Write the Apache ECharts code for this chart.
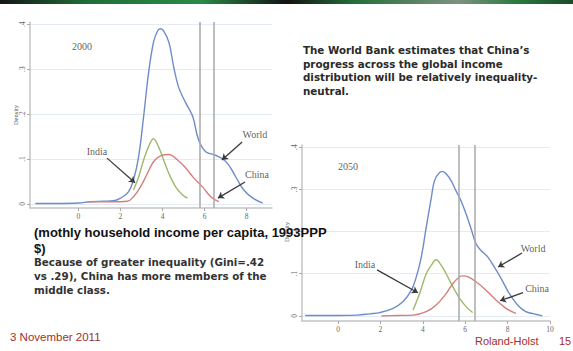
<!DOCTYPE html>
<html><head><meta charset="utf-8">
<script src="https://cdn.jsdelivr.net/npm/echarts@6/dist/echarts.min.js"></script>
<style>html,body{margin:0;padding:0;background:#fff}#c{width:573px;height:351px}</style>
</head><body><div id="c"></div>
<script>
// ---- data ----
const xTicksLeft = [0, 2, 4, 6, 8];
const xTicksRight = [0, 2, 4, 6, 8, 10];
const yTicks = [0, 0.1, 0.2, 0.3, 0.4];
const yTickLabels = ['0', '.1', '.2', '.3', '.4'];

const world2000X = [-2.05, -1, 0, 0.57, 1.2, 1.67, 2.0, 2.38, 2.62, 2.86, 3.1, 3.33, 3.57, 3.76, 3.9, 4.05, 4.3, 4.52, 4.76, 5.1, 5.43, 5.71, 6.05, 6.43, 6.86, 7.14, 7.48, 7.86, 8.29, 8.76];
const world2000Y = [0.001, 0.001, 0.002, 0.005, 0.006, 0.007, 0.013, 0.027, 0.054, 0.105, 0.195, 0.29, 0.36, 0.385, 0.39, 0.385, 0.36, 0.307, 0.26, 0.225, 0.195, 0.143, 0.116, 0.11, 0.10, 0.087, 0.06, 0.031, 0.013, 0.002];
const india2000X = [2.62, 2.86, 3.1, 3.33, 3.57, 3.81, 4.05, 4.29, 4.62, 4.95, 5.19];
const india2000Y = [0.031, 0.06, 0.098, 0.127, 0.145, 0.127, 0.098, 0.069, 0.038, 0.02, 0.013];
const china2000X = [0.48, 1.2, 2.0, 2.33, 2.62, 2.95, 3.29, 3.57, 3.9, 4.29, 4.71, 5.1, 5.48, 5.9, 6.29, 6.67];
const china2000Y = [0.005, 0.005, 0.005, 0.006, 0.016, 0.038, 0.069, 0.094, 0.107, 0.11, 0.098, 0.08, 0.058, 0.038, 0.016, 0.005];

const world2050X = [-1.55, -0.38, 0.88, 1.5, 1.97, 2.6, 3.07, 3.46, 3.69, 3.93, 4.16, 4.4, 4.55, 4.79, 4.95, 5.1, 5.34, 5.57, 5.8, 6.04, 6.28, 6.51, 6.75, 7.06, 7.37, 7.69, 8.08, 8.47, 8.86, 9.25, 9.64];
const world2050Y = [0.001, 0.001, 0.002, 0.005, 0.008, 0.018, 0.034, 0.061, 0.092, 0.14, 0.21, 0.28, 0.32, 0.34, 0.342, 0.337, 0.32, 0.296, 0.273, 0.242, 0.206, 0.171, 0.155, 0.14, 0.116, 0.089, 0.053, 0.026, 0.01, 0.005, 0.0];
const india2050X = [3.54, 3.85, 4.16, 4.4, 4.63, 4.87, 5.1, 5.42, 5.73, 6.04, 6.35];
const india2050Y = [0.014, 0.053, 0.1, 0.12, 0.133, 0.12, 0.1, 0.069, 0.042, 0.022, 0.008];
const china2050X = [2.05, 2.8, 3.54, 4.16, 4.63, 5.1, 5.49, 5.88, 6.12, 6.51, 6.98, 7.45, 7.92, 8.39];
const china2050Y = [0.0, 0.001, 0.002, 0.01, 0.026, 0.053, 0.081, 0.095, 0.093, 0.081, 0.061, 0.038, 0.018, 0.006];

const refLines2000 = [5.76, 6.43];
const refLines2050 = [5.68, 6.43];

// annotation text and arrows (data coordinates)
const notes2000 = [['2000', 0.17, 0.35], ['India', 0.88, 0.116], ['World', 8.39, 0.154], ['China', 8.49, 0.065]];
const arrows2000 = [[1.36, 0.102, 2.69, 0.047], [7.78, 0.138, 6.82, 0.098], [7.92, 0.049, 6.63, 0.013]];
const notes2050 = [['2050', 0.47, 0.353], ['India', 1.27, 0.121], ['World', 9.2, 0.159], ['China', 9.39, 0.064]];
const arrows2050 = [[1.84, 0.109, 3.77, 0.055], [8.68, 0.149, 7.55, 0.116], [8.73, 0.055, 7.64, 0.036]];

// ---- styling ----
const BLUE = '#6f8cc8', GREEN = '#9fb86e', RED = '#d47f7c';
const zip = (xs, ys) => xs.map((x, i) => [x, ys[i]]);

function xAxisCfg(idx, min, max, ticks) {
  return {
    type: 'value', gridIndex: idx, min: min, max: max,
    axisLine: { show: true, onZero: false, lineStyle: { color: '#c4c4c4', width: 1.5 } },
    axisTick: { show: true, length: 3, customValues: ticks, lineStyle: { color: '#aaa' } },
    axisLabel: { customValues: ticks, fontSize: 7.5, color: '#666', fontFamily: 'Liberation Serif', margin: 4 },
    splitLine: { show: false }
  };
}
function yAxisCfg(idx, min, max) {
  return {
    type: 'value', gridIndex: idx, min: min, max: max,
    axisLine: { show: true, onZero: false, lineStyle: { color: '#c4c4c4', width: 1.5 } },
    axisTick: { show: true, length: 3, customValues: yTicks, lineStyle: { color: '#aaa' } },
    axisLabel: { customValues: yTicks, rotate: 90, fontSize: 7.5, color: '#666', fontFamily: 'Liberation Serif', margin: 4,
      formatter: v => yTickLabels[yTicks.findIndex(t => Math.abs(t - v) < 1e-9)] },
    splitLine: { show: true, lineStyle: { color: '#e4ebf4', width: 1 } }
  };
}
function curve(name, xs, ys, color, gi) {
  return {
    type: 'line', name: name, xAxisIndex: gi, yAxisIndex: gi, data: zip(xs, ys),
    smooth: 0.4, showSymbol: false, symbol: 'none',
    lineStyle: { color: color, width: 1.4 }, z: 3
  };
}
function refSeries(gi, vals, arrows) {
  return {
    type: 'line', xAxisIndex: gi, yAxisIndex: gi, data: [], silent: true,
    markLine: {
      silent: true, animation: false, symbol: 'none', label: { show: false },
      lineStyle: { color: '#a8a8a8', width: 1.5, type: 'solid' },
      data: vals.map(v => ({ xAxis: v })).concat(arrows.map(a => [
        { coord: [a[0], a[1]], symbol: 'none', lineStyle: { color: '#3a3a3a', width: 1.3, type: 'solid' } },
        { coord: [a[2], a[3]], symbol: 'arrow', symbolSize: 6 }
      ]))
    }
  };
}
function noteSeries(gi, notes) {
  return {
    type: 'scatter', xAxisIndex: gi, yAxisIndex: gi, symbolSize: 0, silent: true, z: 5,
    data: notes.map(n => ({ name: n[0], value: [n[1], n[2]] })),
    label: { show: true, position: 'inside', formatter: p => p.name, fontFamily: 'Liberation Serif', fontSize: 10, color: '#333' }
  };
}

const chart = echarts.init(document.getElementById('c'), null, { renderer: 'svg' });
chart.setOption({
  backgroundColor: '#fff',
  animation: false,
  grid: [
    { left: 30, right: 301, top: 22, bottom: 143 },
    { left: 302, right: 23, top: 145, bottom: 30 }
  ],
  xAxis: [xAxisCfg(0, -2.3, 9.2, xTicksLeft), xAxisCfg(1, -1.7, 10.0, xTicksRight)],
  yAxis: [yAxisCfg(0, -0.009, 0.405), yAxisCfg(1, -0.012, 0.405)],
  series: [
    refSeries(0, refLines2000, arrows2000),
    curve('World', world2000X, world2000Y, BLUE, 0),
    curve('India', india2000X, india2000Y, GREEN, 0),
    curve('China', china2000X, china2000Y, RED, 0),
    noteSeries(0, notes2000),
    refSeries(1, refLines2050, arrows2050),
    curve('World', world2050X, world2050Y, BLUE, 1),
    curve('India', india2050X, india2050Y, GREEN, 1),
    curve('China', china2050X, china2050Y, RED, 1),
    noteSeries(1, notes2050)
  ],
  graphic: [
    { type: 'rect', left: 0, top: 0, z: 10, shape: { width: 573, height: 4 },
      style: { fill: new echarts.graphic.LinearGradient(0, 0, 1, 0, [
        { offset: 0, color: '#151515' }, { offset: 0.15, color: '#1f6e38' }, { offset: 0.35, color: '#2b8a47' },
        { offset: 0.5, color: '#121212' }, { offset: 0.62, color: '#256f3a' }, { offset: 0.8, color: '#7f927f' },
        { offset: 0.9, color: '#2a7a40' }, { offset: 1, color: '#1a4a28' }]) } },
    { type: 'text', x: 15, y: 115, rotation: Math.PI / 2, z: 10,
      style: { text: 'Density', fontSize: 6.5, fontFamily: 'Liberation Serif', fill: '#555', align: 'center', verticalAlign: 'middle' } },
    { type: 'text', x: 286, y: 232, rotation: Math.PI / 2, z: 10,
      style: { text: 'Density', fontSize: 6.5, fontFamily: 'Liberation Serif', fill: '#555', align: 'center', verticalAlign: 'middle' } },
    { type: 'text', x: 303, y: 43, z: 10,
      style: { text: 'The World Bank estimates that China’s\nprogress across the global income\ndistribution will be relatively inequality-\nneutral.',
        fontSize: 10.3, fontWeight: 'bold', fontFamily: 'DejaVu Sans', fill: '#2a2a2a', lineHeight: 13.7 } },
    { type: 'text', x: 34, y: 224, z: 20,
      style: { text: '(mothly household income per capita, 1993PPP\n$)',
        fontSize: 13, fontWeight: 'bold', fontFamily: 'Liberation Sans', fill: '#111', lineHeight: 16 } },
    { type: 'text', x: 34, y: 255, z: 10,
      style: { text: 'Because of greater inequality (Gini=.42\nvs .29), China has more members of the\nmiddle class.',
        fontSize: 10.3, fontWeight: 'bold', fontFamily: 'DejaVu Sans', fill: '#333', lineHeight: 14 } },
    { type: 'text', x: 10, y: 331, z: 10,
      style: { text: '3 November 2011', fontSize: 11.5, fontFamily: 'Liberation Sans', fill: '#a0302a' } },
    { type: 'text', x: 475, y: 335, z: 10,
      style: { text: 'Roland-Holst', fontSize: 11, fontFamily: 'Liberation Sans', fill: '#a0302a' } },
    { type: 'text', x: 559, y: 335, z: 10,
      style: { text: '15', fontSize: 11, fontFamily: 'Liberation Sans', fill: '#a0302a' } }
  ]
});
</script></body></html>
